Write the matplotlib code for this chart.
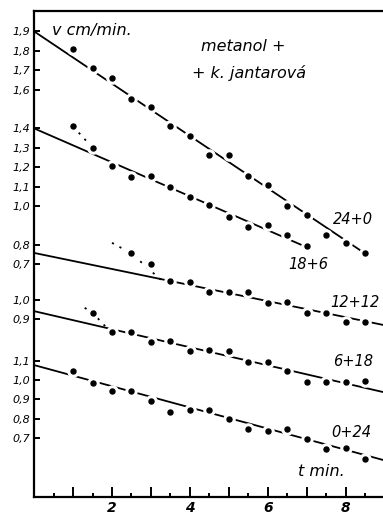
import matplotlib
matplotlib.use("Agg")
import matplotlib.pyplot as plt
import numpy as np

# measured points, v in cm/min, t in min
t_24 = [1, 1.5, 2, 2.5, 3, 3.5, 4, 4.5, 5, 5.5, 6, 6.5, 7, 7.5, 8, 8.5]
v_24 = [1.81, 1.71, 1.66, 1.55, 1.51, 1.41, 1.36, 1.26, 1.26, 1.155, 1.11, 1.0, 0.955, 0.85, 0.81, 0.755]

t_18 = [1, 1.5, 2, 2.5, 3, 3.5, 4, 4.5, 5, 5.5, 6, 6.5, 7]
v_18 = [1.41, 1.30, 1.205, 1.15, 1.155, 1.10, 1.045, 1.005, 0.945, 0.89, 0.90, 0.85, 0.795]

t_12 = [2.5, 3, 3.5, 4, 4.5, 5, 5.5, 6, 6.5, 7, 7.5, 8, 8.5]
v_12 = [0.755, 0.70, 0.615, 0.61, 0.555, 0.555, 0.557, 0.50, 0.505, 0.45, 0.45, 0.40, 0.40]

t_6 = [1.5, 2, 2.5, 3, 3.5, 4, 4.5, 5, 5.5, 6, 6.5, 7, 7.5, 8, 8.5]
v_6 = [0.935, 0.835, 0.835, 0.785, 0.79, 0.74, 0.745, 0.74, 0.68, 0.68, 0.635, 0.58, 0.58, 0.58, 0.585]

t_0 = [1, 1.5, 2, 2.5, 3, 3.5, 4, 4.5, 5, 5.5, 6, 6.5, 7, 7.5, 8, 8.5]
v_0 = [1.045, 0.985, 0.945, 0.945, 0.89, 0.835, 0.845, 0.845, 0.80, 0.745, 0.735, 0.745, 0.695, 0.645, 0.65, 0.595]

# hand drawn straight lines (t, v at both ends)
fit_24 = ([0, 8.6], [1.90, 0.74])
fit_18 = ([0, 6.85], [1.40, 0.80])
fit_12 = ([0, 8.95], [0.758, 0.387])
fit_6 = ([0, 8.95], [0.943, 0.526])
fit_0 = ([0, 8.95], [1.077, 0.588])

# dotted bits joining the first points to the line
dev_18 = ([1.0, 1.5], [1.41, 1.30])
dev_12 = ([2.0, 2.5, 3.25], [0.81, 0.755, 0.62])
dev_6 = ([1.3, 1.5, 1.85], [0.96, 0.935, 0.86])

names = ["24+0", "18+6", "12+12", "6+18", "0+24"]
# each curve group has its own piece of the v scale
shifts = [0.0, 0.0, 0.0, -0.485, -0.897]

ytick_v = [[1.9, 1.8, 1.7, 1.6, 1.4, 1.3, 1.2, 1.1, 1.0, 0.8, 0.7],
           [1.0, 0.9],
           [1.1, 1.0, 0.9, 0.8, 0.7]]
ytick_txt = [["1,9", "1,8", "1,7", "1,6", "1,4", "1,3", "1,2", "1,1", "1,0", "0,8", "0,7"],
             ["1,0", "0,9"],
             ["1,1", "1,0", "0,9", "0,8", "0,7"]]
ytick_shift = [0.0, -0.485, -0.897]

fig = plt.figure(figsize=(3.83, 5.16), dpi=100)
ax = fig.add_axes([0.0888, 0.0368, 0.9112, 0.942])

pts = [(t_24, v_24), (t_18, v_18), (t_12, v_12), (t_6, v_6), (t_0, v_0)]
fits = [fit_24, fit_18, fit_12, fit_6, fit_0]
for (t, v), (ft, fv), s in zip(pts, fits, shifts):
    ax.plot(ft, np.array(fv) + s, color="black", lw=1.3, zorder=2)
    ax.plot(t, np.array(v) + s, "o", ms=8, color="white", mec="white", zorder=3)
    ax.plot(t, np.array(v) + s, "o", ms=3.6, color="black", zorder=4)

for (dt, dv), s in zip([dev_18, dev_12, dev_6], [shifts[1], shifts[2], shifts[3]]):
    ax.plot(dt, np.array(dv) + s, color="black", lw=1.3, ls=(0, (1.2, 3.5)), zorder=2)

ax.set_xlim(0, 8.95)
ax.set_ylim(-0.5, 2.005)

yt, yl = [], []
for vals, txt, s in zip(ytick_v, ytick_txt, ytick_shift):
    yt += [x + s for x in vals]
    yl += txt
ax.set_yticks(yt)
ax.set_yticklabels(yl, fontsize=8, style="italic")

ax.set_xticks([1, 2, 3, 4, 5, 6, 7, 8])
ax.set_xticklabels(["", "2", "", "4", "", "6", "", "8"], fontsize=10, style="italic", fontweight="bold")
ax.set_xticks([0.5, 1.5, 2.5, 3.5, 4.5, 5.5, 6.5, 7.5, 8.5], minor=True)
ax.tick_params(axis="x", which="major", direction="in", length=7, width=1.4, pad=3)
ax.tick_params(axis="x", which="minor", direction="in", length=3, width=1.4)
ax.tick_params(axis="y", direction="in", length=4.5, width=1.4, pad=3)

for side in ["left", "bottom", "top"]:
    ax.spines[side].set_linewidth(1.6)
ax.spines["right"].set_visible(False)

# labels of the curves
lab_pos = [(8.18, 0.928), (7.03, 0.70), (8.23, 0.50), (8.18, 0.196), (8.13, -0.165)]
for n, (x, y) in zip(names, lab_pos):
    ax.text(x, y, n, fontsize=10.5, style="italic", ha="center", va="center")

ax.text(0.45, 1.905, "v cm/min.", fontsize=11.5, style="italic", ha="left", va="center")
ax.text(4.28, 1.82, "metanol +", fontsize=11.5, style="italic", ha="left", va="center")
ax.text(4.05, 1.686, "+ k. jantarová", fontsize=11.5, style="italic", ha="left", va="center")
ax.text(7.38, -0.371, "t min.", fontsize=11.5, style="italic", ha="center", va="center")

fig.savefig("out.png", dpi=100)
